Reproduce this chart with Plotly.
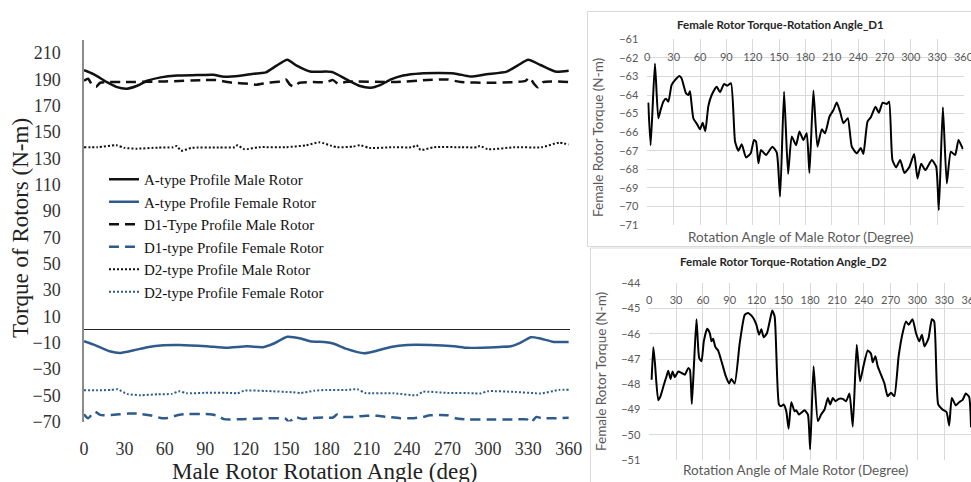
"""Rotor torque vs rotation angle: overview chart plus two female-rotor detail panels."""

import plotly.graph_objects as go

W, H = 971, 482

# ---- main chart series (deg, N-m) ----
A_MALE_DEG = [0, 7, 17, 24, 32, 39, 47, 57, 69, 84, 96, 104, 116, 128, 135, 143, 151, 158, 168,
              180, 185, 195, 205, 213, 220, 228, 237, 250, 275, 287, 299, 314, 322, 330, 339, 350, 360]
A_MALE = [197, 194, 188, 184.4, 183, 185, 189, 191.6, 193, 193.3, 193.6, 192, 192.8, 194.6, 195.4,
          200.5, 205, 200.5, 196, 196, 195.4, 190, 185, 183.7, 185.7, 190, 193, 194.6, 194.6, 192.3,
          194, 196, 200.5, 205, 201, 196, 196.7]

A_FEMALE_DEG = [0, 9, 19, 27, 37, 47, 59, 71, 91, 106, 121, 133, 141, 151, 161, 168, 180, 185, 195,
                208, 218, 228, 240, 257, 275, 285, 309, 317, 324, 332, 339, 349, 360]
A_FEMALE = [-9, -12.3, -16.6, -17.9, -15.9, -13.5, -12, -11.8, -12.8, -14, -12.8, -13.5, -10.7, -5.6,
            -6.9, -9, -9.7, -10.7, -14.8, -18.1, -16.1, -13.3, -11.8, -11.8, -12.8, -14, -13.3, -12.8,
            -10.2, -5.9, -6.9, -9.5, -9.5]

D1_MALE_DEG = [0, 3, 6, 9, 12, 16, 30, 60, 90, 98, 110, 120, 128, 136, 146, 150, 153, 156, 160, 170,
               180, 185, 189, 194, 200, 230, 255, 270, 280, 300, 320, 328, 331, 334, 337, 341, 360]
D1_MALE = [189, 190.5, 186, 184.5, 187.5, 188, 188, 188.5, 189.5, 189.5, 187.5, 187, 186, 187.5, 188.5,
           190, 186, 184.5, 187.5, 188, 188, 189.5, 186.5, 188, 188.5, 188, 189.5, 190, 188, 187.5, 188,
           189, 191.5, 187, 184, 188, 188]

D1_FEMALE_DEG = [0, 3, 8, 12, 20, 33, 40, 50, 57, 62, 72, 95, 100, 104, 118, 127, 150, 152, 157, 162,
                 170, 180, 185, 188, 192, 200, 210, 218, 225, 235, 245, 252, 257, 270, 276, 285, 300,
                 320, 329, 332, 336, 340, 350, 360]
D1_FEMALE = [-64.5, -67.5, -62.5, -65, -65, -64, -64, -65.5, -67.3, -67.3, -64.6, -64.6, -66, -68.2,
             -68.2, -67.9, -68, -70.5, -66.7, -68, -67.3, -67, -67, -64.6, -66.5, -66.5, -65.6, -65.6,
             -66.5, -67.5, -67.5, -66.5, -65.3, -65.3, -67.5, -68.4, -68.4, -68.4, -68.4, -70.8, -66.5,
             -67.5, -67.5, -67.2]

D2_MALE_DEG = [0, 10, 24, 30, 39, 55, 66, 69, 72, 80, 100, 112, 114, 119, 130, 150, 165, 175, 184, 188,
               200, 205, 212, 230, 244, 247, 250, 260, 280, 292, 294, 300, 320, 340, 353, 360]
D2_MALE = [138.5, 138.5, 140, 138, 137.4, 138.2, 138.4, 139.4, 135.9, 138, 138.2, 138.5, 140, 137,
           138.5, 138.5, 140, 142.2, 139.5, 138.5, 139, 140, 138, 138.5, 138.5, 140, 136.5, 138.5,
           138.5, 138.5, 139.5, 137, 138.5, 138.5, 142, 140.5]

D2_FEMALE_DEG = [0, 10, 20, 25, 32, 42, 55, 65, 71, 76, 90, 110, 114, 119, 135, 155, 161, 171, 180,
                 195, 203, 209, 230, 247, 252, 270, 290, 294, 300, 320, 335, 339, 353, 360]
D2_FEMALE = [-46.2, -46.3, -46, -45.5, -49, -50, -49.3, -49, -47, -48.5, -48.2, -48.3, -48.6, -46.6,
             -46.8, -47.8, -48.3, -46.6, -46, -46, -45.5, -48.3, -48.5, -50, -47.4, -48.3, -48.5, -48.8,
             -47, -47.5, -48.5, -48.8, -46, -45.8]

# ---- detail panel D1 ----
P1_DEG = [1.1, 3.8, 8.7, 12.5, 15.2, 18.2, 21.3, 24, 27.7, 31.5, 36.5, 39, 44, 46.7, 48.6, 52.4, 57, 60,
          63, 66, 69.5, 73.3, 79, 82.8, 87.4, 91, 95.3, 99.9, 103.7, 107.5, 112.4, 117.7, 121.5, 123.8,
          126.5, 129.5, 135.2, 142.4, 147.4, 151.2, 155.7, 160.3, 164.4, 169.4, 173.2, 177.7, 181.5,
          184.6, 189.1, 193.7, 198.6, 202.4, 207.4, 212, 215.7, 219.5, 223.3, 228.3, 232.8, 238.5, 243,
          246, 250.7, 254.5, 259.8, 263.6, 268, 272.7, 275.3, 279.1, 283.3, 287.9, 292.8, 298.5, 303.8,
          307.6, 311.8, 316.7, 323.9, 328.9, 331.9, 336.5, 341, 345.6, 350.5, 354.3, 359.3]
P1_TORQUE = [-64.41, -66.7, -62.3, -65.25, -64.8, -64.36, -64.2, -64.36, -63.46, -63.2, -62.97, -63.1,
             -63.9, -64.0, -63.8, -65.25, -65.6, -65.85, -65.5, -65.95, -64.6, -64.0, -63.55, -63.85,
             -63.4, -63.5, -63.37, -66.5, -67.0, -66.65, -67.36, -67.14, -66.42, -66.5, -67.68, -66.96,
             -67.23, -66.78, -67.1, -69.47, -63.82, -68.25, -66.24, -66.7, -65.97, -66.42, -66.06, -68.2,
             -63.76, -66.78, -65.85, -66.06, -65.16, -64.8, -64.4, -64.9, -65.52, -65.25, -66.78, -67.14,
             -66.85, -67.17, -65.43, -65.2, -64.63, -64.95, -64.41, -64.48, -64.36, -67.5, -67.9, -67.5,
             -68.2, -67.86, -67.17, -68.49, -67.7, -68.04, -67.5, -67.86, -70.2, -64.66, -68.76, -67.05,
             -67.23, -66.42, -66.92]

# ---- detail panel D2 ----
P2_DEG = [2.6, 4.5, 6.3, 10, 12.6, 16.4, 19.3, 21.2, 23.8, 26, 28.6, 32.4, 36.1, 39.8, 43.5, 45.4, 47.6,
          49.9, 52.8, 55.8, 58.4, 61, 64.7, 67.7, 69.6, 71.4, 74, 77, 81.8, 85.6, 89.3, 91.9, 95.6, 101.2,
          106.8, 110.5, 115.3, 119.8, 122.8, 125.4, 128, 131.7, 134.7, 137.6, 140.3, 145.1, 147.7, 150.3,
          153.3, 155.9, 158.9, 162.6, 164.4, 167.4, 170, 173.7, 177.5, 180, 183.8, 188.6, 192.3, 196.1,
          199.8, 202.4, 205.4, 208.3, 212, 216.5, 220.2, 224, 227.7, 232.1, 235.9, 239.6, 244.4, 248.1,
          250, 253, 255.6, 259.3, 263, 266.7, 270.5, 274.2, 279, 283.5, 287.2, 290.2, 294.6, 298.4, 302.1,
          305.1, 308, 312.5, 316.2, 318.8, 323.3, 328.1, 332.6, 335.6, 338.5, 343, 346.7, 350.4, 354.2,
          357.9, 360]
P2_TORQUE = [-47.82, -46.53, -47.16, -48.63, -48.47, -48.01, -47.68, -47.46, -47.79, -47.49, -47.72,
             -47.49, -47.55, -47.62, -47.36, -47.42, -48.78, -47.29, -45.42, -46.96, -47.09, -46.3,
             -45.8, -45.97, -46.3, -46.2, -46.53, -46.66, -47.22, -47.68, -47.97, -47.79, -47.97,
             -46.37, -45.25, -45.18, -45.32, -45.64, -46.04, -45.82, -46.14, -45.97, -45.51, -45.08,
             -45.32, -48.8, -48.87, -48.8, -49.07, -49.76, -48.71, -49.07, -49.03, -49.2, -49.13,
             -49.03, -49.2, -50.58, -47.29, -49.46, -49.2, -49.0, -48.54, -48.8, -48.54, -48.67,
             -48.58, -48.58, -48.67, -48.37, -49.68, -46.43, -47.88, -47.29, -46.66, -46.79, -47.13,
             -46.89, -47.29, -47.62, -47.95, -48.47, -48.34, -48.47, -46.89, -45.97, -45.51, -45.64,
             -45.42, -45.97, -46.3, -46.04, -46.5, -46.17, -45.42, -45.51, -48.8, -49.0, -49.1, -49.63,
             -48.54, -48.84, -48.71, -48.63, -48.37, -48.5, -49.7]

ANGLE_TICKS = list(range(0, 361, 30))
MAIN_Y_TICKS = list(range(-70, 211, 20))

BLACK = "#111111"
BLUE = "#2E5B8C"
GRID = "#D9D9D9"
PANEL_TXT = "#595959"
SERIF = "Liberation Serif, Times New Roman, serif"
SANS = "Lato, Open Sans, sans-serif"


def px_x(p):
    return p / W


def px_y(p):
    return 1 - p / H


def note(text, x, y, font, angle=0):
    return dict(text=text, xref="paper", yref="paper", x=px_x(x), y=px_y(y),
                xanchor="center", yanchor="middle", textangle=angle,
                showarrow=False, font=font)


fig = go.Figure()

main_series = [
    ("A-type Profile Male Rotor", A_MALE_DEG, A_MALE, BLACK, "solid", 2.5),
    ("A-type Profile Female Rotor", A_FEMALE_DEG, A_FEMALE, BLUE, "solid", 2.5),
    ("D1-Type Profile Male Rotor", D1_MALE_DEG, D1_MALE, BLACK, "10px,6px", 2.5),
    ("D1-type Profile Female Rotor", D1_FEMALE_DEG, D1_FEMALE, BLUE, "10px,6px", 2.5),
    ("D2-type Profile Male Rotor", D2_MALE_DEG, D2_MALE, BLACK, "2px,2px", 2),
    ("D2-type Profile Female Rotor", D2_FEMALE_DEG, D2_FEMALE, BLUE, "2px,2px", 2),
]
for name, xs, ys, color, dash, width in main_series:
    fig.add_trace(go.Scatter(
        x=xs, y=ys, mode="lines", name=name,
        line=dict(color=color, dash=dash, width=width, shape="spline", smoothing=0.6),
        xaxis="x", yaxis="y",
    ))

for xs, ys, ax in [(P1_DEG, P1_TORQUE, "2"), (P2_DEG, P2_TORQUE, "3")]:
    fig.add_trace(go.Scatter(
        x=xs, y=ys, mode="lines", showlegend=False,
        line=dict(color="#000000", width=2, shape="spline", smoothing=0.5),
        xaxis="x" + ax, yaxis="y" + ax,
    ))

main_tick_font = dict(family=SERIF, size=18, color="#333333")
panel_tick_font = dict(family=SANS, size=11, color=PANEL_TXT)
panel_title_font = dict(family=SANS, size=11.5, color="#262626")
panel_axis_font = dict(family=SANS, size=13.5, color=PANEL_TXT)
main_title_font = dict(family=SERIF, size=23, color="#222222")

layout = dict(
    width=W, height=H,
    margin=dict(l=0, r=0, t=0, b=0, autoexpand=False),
    paper_bgcolor="white", plot_bgcolor="rgba(0,0,0,0)",
    showlegend=True,
    legend=dict(
        x=px_x(104), y=px_y(163), xanchor="left", yanchor="top",
        bgcolor="rgba(0,0,0,0)", font=dict(family=SERIF, size=15, color="#111111"),
        traceorder="normal",
    ),
    # main chart
    xaxis=dict(
        domain=[px_x(84), px_x(570)], range=[0, 361], anchor="y", automargin=False,
        tickvals=ANGLE_TICKS, tickfont=main_tick_font, ticklabelstandoff=14,
        showgrid=False, zeroline=False, showline=False, ticks="",
    ),
    yaxis=dict(
        domain=[px_y(421.5), px_y(40)], range=[-70, 220], anchor="x", automargin=False,
        tickvals=MAIN_Y_TICKS, tickfont=main_tick_font, ticklabelstandoff=18,
        showgrid=False, showline=True, linecolor="#8C8C8C", linewidth=1.5,
        zeroline=True, zerolinecolor="#222222", zerolinewidth=1, ticks="",
    ),
    # D1 detail
    xaxis2=dict(
        domain=[px_x(647.3), px_x(963.5)], range=[0, 360], anchor="y2", automargin=False,
        side="top", ticklabelposition="inside", ticklabeloverflow="allow",
        tickvals=ANGLE_TICKS, tickfont=panel_tick_font, ticklabelstandoff=11,
        showgrid=True, gridcolor=GRID, gridwidth=1, zeroline=False, showline=False, ticks="",
    ),
    yaxis2=dict(
        domain=[px_y(225), px_y(39.3)], range=[-71, -61], anchor="x2", dtick=1, automargin=False,
        tickfont=panel_tick_font, ticklabelstandoff=8,
        showgrid=True, gridcolor=GRID, gridwidth=1, zeroline=False, showline=False, ticks="",
    ),
    # D2 detail
    xaxis3=dict(
        domain=[px_x(649.3), 1.0], range=[0, 360], anchor="y3", automargin=False,
        side="top", ticklabelposition="inside", ticklabeloverflow="allow",
        tickvals=ANGLE_TICKS, tickfont=panel_tick_font, ticklabelstandoff=10,
        showgrid=True, gridcolor=GRID, gridwidth=1, zeroline=False, showline=False, ticks="",
    ),
    yaxis3=dict(
        domain=[px_y(460), px_y(283.3)], range=[-51, -44], anchor="x3", dtick=1, automargin=False,
        tickfont=panel_tick_font, ticklabelstandoff=8,
        showgrid=True, gridcolor=GRID, gridwidth=1, zeroline=False, showline=False, ticks="",
    ),
    shapes=[
        dict(type="rect", xref="paper", yref="paper", layer="below",
             x0=px_x(587.5), x1=1.02, y0=px_y(246.5), y1=px_y(11.5),
             line=dict(color=GRID, width=1), fillcolor="white"),
        dict(type="rect", xref="paper", yref="paper", layer="below",
             x0=px_x(590.5), x1=1.02, y0=-0.02, y1=px_y(248),
             line=dict(color=GRID, width=1), fillcolor="white"),
    ],
    annotations=[
        note("Torque of Rotors (N-m)", 20, 228, main_title_font, -90),
        note("Male Rotor Rotation Angle (deg)", 324, 471, main_title_font),
        note("<b>Female Rotor Torque-Rotation Angle_D1</b>", 780, 24, panel_title_font),
        note("Female Rotor Torque (N-m)", 598, 138, panel_axis_font, -90),
        note("Rotation Angle of Male Rotor (Degree)", 800, 237, panel_axis_font),
        note("<b>Female Rotor Torque-Rotation Angle_D2</b>", 783, 261, panel_title_font),
        note("Female Rotor Torque (N-m)", 601, 372, panel_axis_font, -90),
        note("Rotation Angle of Male Rotor (Degree)", 795, 470, panel_axis_font),
    ],
)
fig.update_layout(**layout)

# the page body has a default 8px margin; drop it so the figure sits at the window origin
fig.write_html("out.html", config={"displayModeBar": False},
               post_script="document.body.style.margin='0';")
